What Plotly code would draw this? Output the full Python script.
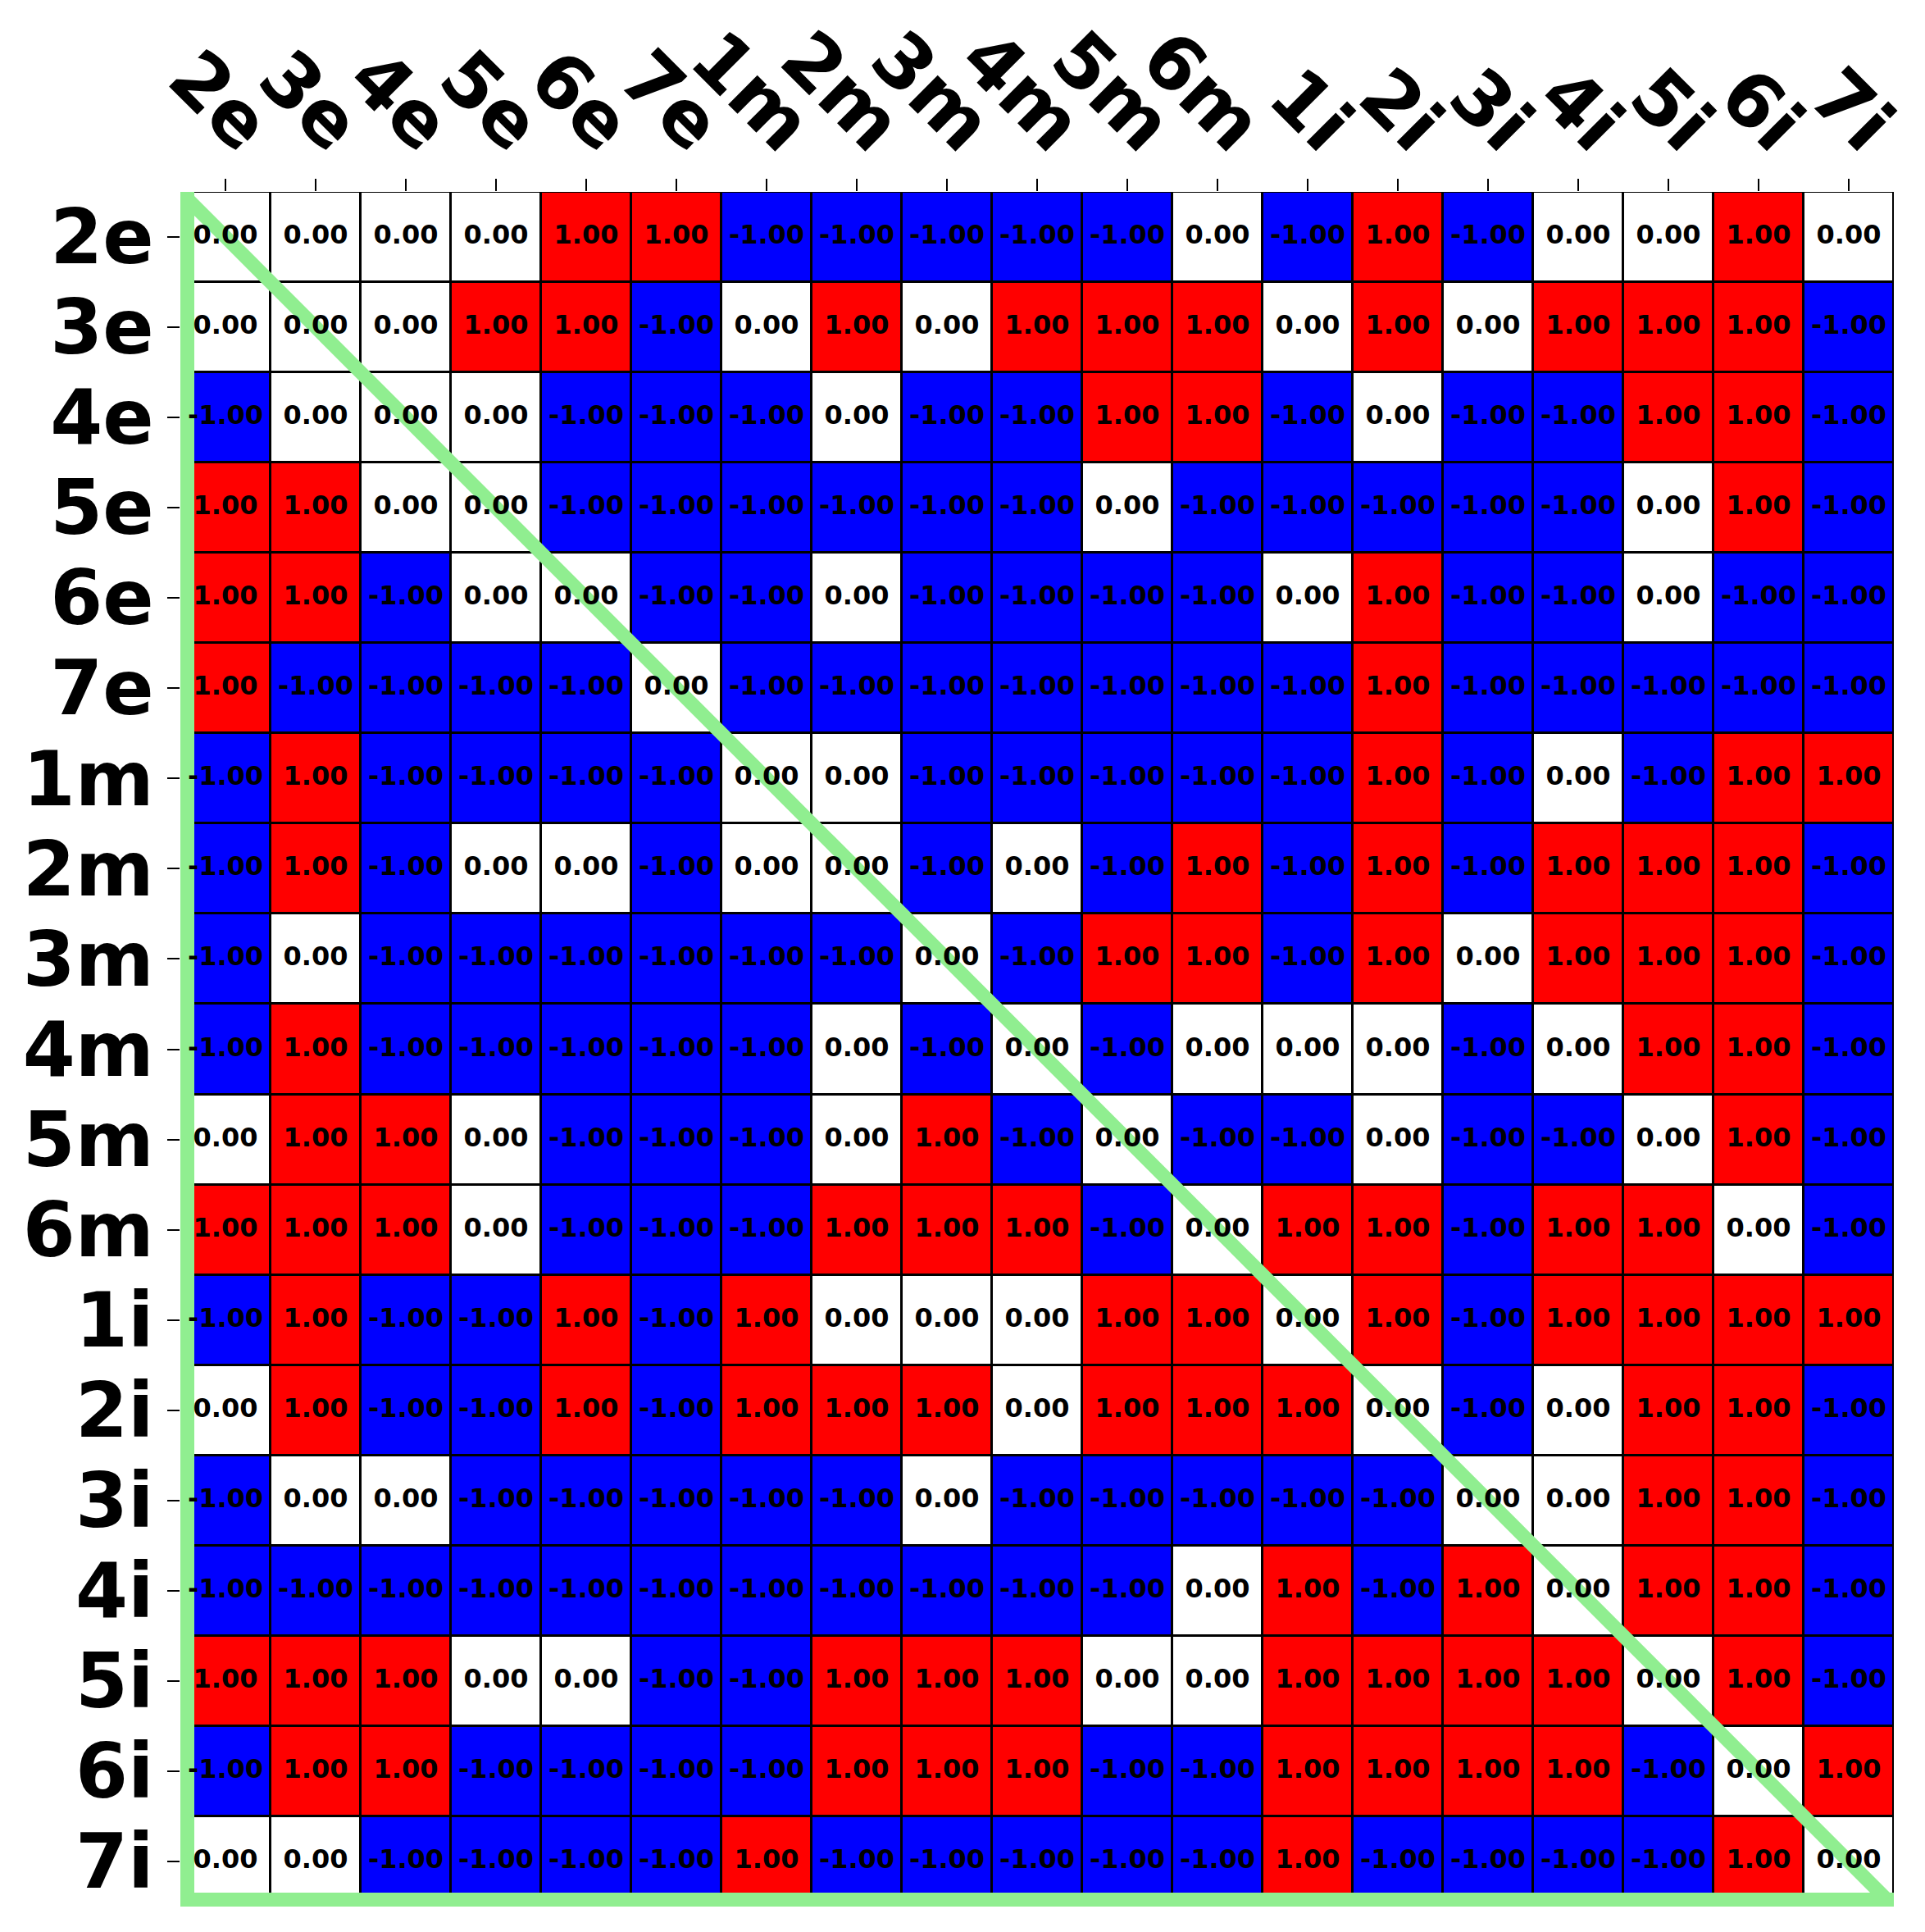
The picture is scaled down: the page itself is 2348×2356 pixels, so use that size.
import plotly.graph_objects as go

labels = ["2e", "3e", "4e", "5e", "6e", "7e", "1m", "2m", "3m", "4m", "5m", "6m",
          "1i", "2i", "3i", "4i", "5i", "6i", "7i"]

row_2e = [0, 0, 0, 0, 1, 1, -1, -1, -1, -1, -1, 0, -1, 1, -1, 0, 0, 1, 0]
row_3e = [0, 0, 0, 1, 1, -1, 0, 1, 0, 1, 1, 1, 0, 1, 0, 1, 1, 1, -1]
row_4e = [-1, 0, 0, 0, -1, -1, -1, 0, -1, -1, 1, 1, -1, 0, -1, -1, 1, 1, -1]
row_5e = [1, 1, 0, 0, -1, -1, -1, -1, -1, -1, 0, -1, -1, -1, -1, -1, 0, 1, -1]
row_6e = [1, 1, -1, 0, 0, -1, -1, 0, -1, -1, -1, -1, 0, 1, -1, -1, 0, -1, -1]
row_7e = [1, -1, -1, -1, -1, 0, -1, -1, -1, -1, -1, -1, -1, 1, -1, -1, -1, -1, -1]
row_1m = [-1, 1, -1, -1, -1, -1, 0, 0, -1, -1, -1, -1, -1, 1, -1, 0, -1, 1, 1]
row_2m = [-1, 1, -1, 0, 0, -1, 0, 0, -1, 0, -1, 1, -1, 1, -1, 1, 1, 1, -1]
row_3m = [-1, 0, -1, -1, -1, -1, -1, -1, 0, -1, 1, 1, -1, 1, 0, 1, 1, 1, -1]
row_4m = [-1, 1, -1, -1, -1, -1, -1, 0, -1, 0, -1, 0, 0, 0, -1, 0, 1, 1, -1]
row_5m = [0, 1, 1, 0, -1, -1, -1, 0, 1, -1, 0, -1, -1, 0, -1, -1, 0, 1, -1]
row_6m = [1, 1, 1, 0, -1, -1, -1, 1, 1, 1, -1, 0, 1, 1, -1, 1, 1, 0, -1]
row_1i = [-1, 1, -1, -1, 1, -1, 1, 0, 0, 0, 1, 1, 0, 1, -1, 1, 1, 1, 1]
row_2i = [0, 1, -1, -1, 1, -1, 1, 1, 1, 0, 1, 1, 1, 0, -1, 0, 1, 1, -1]
row_3i = [-1, 0, 0, -1, -1, -1, -1, -1, 0, -1, -1, -1, -1, -1, 0, 0, 1, 1, -1]
row_4i = [-1, -1, -1, -1, -1, -1, -1, -1, -1, -1, -1, 0, 1, -1, 1, 0, 1, 1, -1]
row_5i = [1, 1, 1, 0, 0, -1, -1, 1, 1, 1, 0, 0, 1, 1, 1, 1, 0, 1, -1]
row_6i = [-1, 1, 1, -1, -1, -1, -1, 1, 1, 1, -1, -1, 1, 1, 1, 1, -1, 0, 1]
row_7i = [0, 0, -1, -1, -1, -1, 1, -1, -1, -1, -1, -1, 1, -1, -1, -1, -1, 1, 0]

matrix = [row_2e, row_3e, row_4e, row_5e, row_6e, row_7e, row_1m, row_2m, row_3m,
          row_4m, row_5m, row_6m, row_1i, row_2i, row_3i, row_4i, row_5i, row_6i, row_7i]

n = len(labels)
idx = list(range(n))

fig = go.Figure()

fig.add_trace(go.Heatmap(
    z=matrix, x=idx, y=idx,
    colorscale=[[0, "#0000ff"], [0.5, "#ffffff"], [1, "#ff0000"]],
    zmin=-1, zmax=1, showscale=False,
    xgap=3, ygap=3, hoverinfo="skip",
))

# light green triangle outline (left edge, bottom edge, diagonal)
cell_px = 110.0
w_px = 17
off = (w_px / 2) / cell_px
lo, hi = -0.5, n - 0.5
fig.add_trace(go.Scatter(
    x=[lo + off, lo + off, hi + 0.2, None, lo, hi],
    y=[lo - 0.2, hi - off, hi - off, None, lo, hi],
    mode="lines", line=dict(color="#90ee90", width=w_px),
    hoverinfo="skip", showlegend=False,
))

tx, ty, tt = [], [], []
for i, row in enumerate(matrix):
    for j, v in enumerate(row):
        tx.append(j)
        ty.append(i)
        tt.append(f"{v:.2f}")
fig.add_trace(go.Scatter(
    x=tx, y=ty, text=tt, mode="text",
    textfont=dict(family="DejaVu Sans", size=32, color="black", weight="bold"),
    hoverinfo="skip", showlegend=False,
))

# page body has an 8px default margin; the figure is sized to fit inside the window
fig.update_layout(
    width=2340, height=2348,
    margin=dict(l=212, r=38, t=226, b=31),
    paper_bgcolor="white", plot_bgcolor="black",
    showlegend=False,
)
fig.update_xaxes(
    side="top", range=[lo, hi], tickvals=idx, ticktext=labels, automargin=False,
    tickangle=45, ticks="outside", ticklen=15, tickwidth=2, tickcolor="black",
    tickfont=dict(family="DejaVu Sans", size=92, color="black", weight="bold"),
    ticklabelshift=48, ticklabelstandoff=-22,
    showgrid=False, zeroline=False, showline=False,
)
fig.update_yaxes(
    range=[hi, lo], tickvals=idx, ticktext=labels, automargin=False,
    ticks="outside", ticklen=15, tickwidth=2, tickcolor="black",
    tickfont=dict(family="DejaVu Sans", size=92, color="black", weight="bold"),
    ticklabelstandoff=-2,
    showgrid=False, zeroline=False, showline=False,
)

fig.write_html("out.html")
